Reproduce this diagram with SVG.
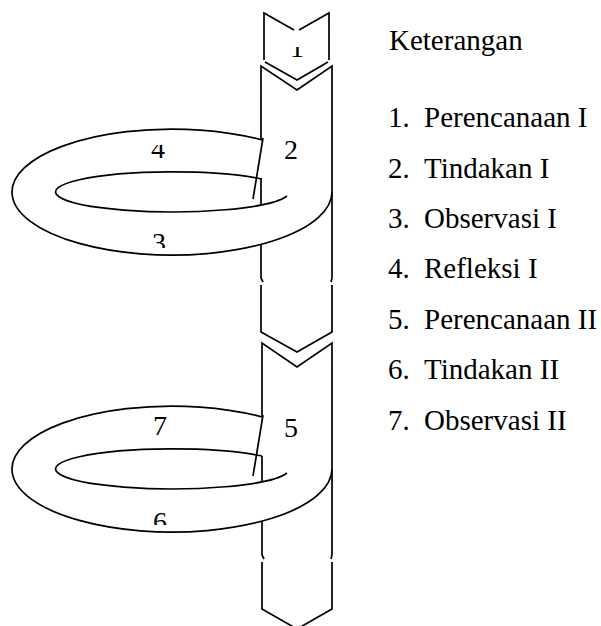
<svg xmlns="http://www.w3.org/2000/svg" width="601" height="626" viewBox="0 0 601 626">
<style>
.ln{fill:none;stroke:#000;stroke-width:1.7;stroke-linejoin:miter;stroke-linecap:butt}
.t{font-family:"Liberation Serif","Times New Roman",serif;font-size:28px;fill:#000}
.lg{font-family:"Liberation Serif","Times New Roman",serif;font-size:29px;fill:#000}
</style>
<defs>
<clipPath id="c1"><rect x="270" y="47" width="60" height="20"/></clipPath>
<clipPath id="c4"><rect x="130" y="145" width="60" height="20"/></clipPath>
<clipPath id="c3"><rect x="130" y="225" width="60" height="23"/></clipPath>
<clipPath id="c6"><rect x="130" y="505" width="60" height="20"/></clipPath>
</defs>
<rect width="601" height="626" fill="#fff"/>

<g id="node-1">
<path class="ln" d="M294,30 L264,13 L264,60 M299,30 L329,13 L329,60 M265,62 L297,80 L328,62"/>
<text class="t" x="297" y="57" text-anchor="middle" clip-path="url(#c1)">1</text>
</g>

<g id="node-body-1">
<path class="ln" d="M261,140 L261,66 L297,90 L332,66 L332,278 M261,179 L261,205 M261,244 L261,278 L263,282 M332,278 L331,282 M261,285 L261,332 L297,352 L332,332 L332,285"/>
<text class="t" x="291" y="159" text-anchor="middle">2</text>
</g>

<g id="node-loop-1">
<path class="ln" d="M262,140 A160,63 0 1 0 332,192"/>
<path class="ln" d="M262,179 A117,20 0 1 0 287,196"/>
<path class="ln" d="M263,138 L253,199"/>
<text class="t" x="158" y="158" text-anchor="middle" clip-path="url(#c4)">4</text>
<text class="t" x="159" y="252" text-anchor="middle" clip-path="url(#c3)">3</text>
</g>

<g id="node-body-2">
<path class="ln" d="M262,417 L262,343 L297,367 L332,343 L332,555 M262,456 L262,482 M262,521 L262,555 L264,559 M332,555 L331,559 M262,562 L262,609 L297,629 L332,609 L332,562"/>
<text class="t" x="291" y="437" text-anchor="middle">5</text>
</g>

<g id="node-loop-2">
<path class="ln" d="M262,417 A160,63 0 1 0 332,469"/>
<path class="ln" d="M262,456 A117,20 0 1 0 287,473"/>
<path class="ln" d="M263,415 L253,476"/>
<text class="t" x="160" y="435" text-anchor="middle">7</text>
<text class="t" x="160" y="531" text-anchor="middle" clip-path="url(#c6)">6</text>
</g>

<g id="legend">
<text class="lg" x="389" y="50">Keterangan</text>
<text class="lg" x="388" y="127">1.</text><text class="lg" x="424" y="127">Perencanaan I</text>
<text class="lg" x="388" y="177.5">2.</text><text class="lg" x="424" y="177.5">Tindakan I</text>
<text class="lg" x="388" y="228">3.</text><text class="lg" x="424" y="228">Observasi I</text>
<text class="lg" x="388" y="278">4.</text><text class="lg" x="424" y="278">Refleksi I</text>
<text class="lg" x="388" y="328.5">5.</text><text class="lg" x="424" y="328.5">Perencanaan II</text>
<text class="lg" x="388" y="379">6.</text><text class="lg" x="424" y="379">Tindakan II</text>
<text class="lg" x="388" y="429.5">7.</text><text class="lg" x="424" y="429.5">Observasi II</text>
</g>
</svg>
